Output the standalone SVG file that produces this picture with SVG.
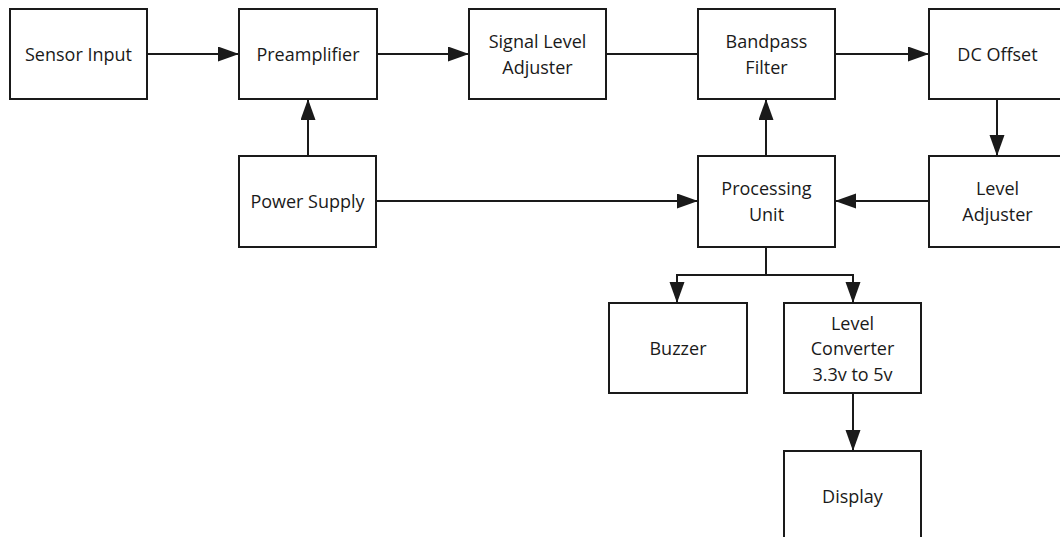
<svg xmlns="http://www.w3.org/2000/svg" width="1060" height="537" viewBox="0 0 1060 537">
  <style>
    .box { fill: #ffffff; stroke: #1a1a1a; stroke-width: 2; }
    .lbl { font-family: "Open Sans", "Noto Sans", sans-serif; font-size: 18px; fill: #1a1a1a; text-anchor: middle; }
    .wire { fill: none; stroke: #1a1a1a; stroke-width: 2; }
    .arr { marker-end: url(#head); }
  </style>
  <defs>
    <marker id="head" markerUnits="userSpaceOnUse" markerWidth="22" markerHeight="16" refX="21" refY="7.5" orient="auto">
      <path d="M0,0 L21,7.5 L0,15 z" fill="#1a1a1a"/>
    </marker>
  </defs>
  <rect width="1060" height="537" fill="#ffffff"/>

  <!-- connectors -->
  <g id="connectors">
    <line class="wire arr" x1="147" y1="54" x2="239" y2="54"/>
    <line class="wire arr" x1="377" y1="54" x2="469" y2="54"/>
    <line class="wire" x1="606" y1="54" x2="698" y2="54"/>
    <line class="wire arr" x1="835" y1="54" x2="929" y2="54"/>
    <line class="wire arr" x1="997" y1="99" x2="997" y2="156"/>
    <line class="wire arr" x1="929" y1="201" x2="835" y2="201"/>
    <line class="wire arr" x1="766" y1="156" x2="766" y2="99"/>
    <line class="wire arr" x1="308" y1="156" x2="308" y2="99"/>
    <line class="wire arr" x1="376" y1="201" x2="698" y2="201"/>
    <polyline class="wire" points="766,247 766,275"/>
    <polyline class="wire arr" points="766,275 677,275 677,303"/>
    <polyline class="wire arr" points="766,275 853,275 853,303"/>
    <line class="wire arr" x1="853" y1="393" x2="853" y2="451"/>
  </g>

  <g id="sensor-input">
    <rect class="box" x="10" y="9" width="137" height="90"/>
    <text class="lbl" x="78.5" y="61">Sensor Input</text>
  </g>
  <g id="preamplifier">
    <rect class="box" x="239" y="9" width="138" height="90"/>
    <text class="lbl" x="308" y="61">Preamplifier</text>
  </g>
  <g id="signal-level-adjuster">
    <rect class="box" x="469" y="9" width="137" height="90"/>
    <text class="lbl" x="537.5" y="48">Signal Level</text>
    <text class="lbl" x="537.5" y="73.5">Adjuster</text>
  </g>
  <g id="bandpass-filter">
    <rect class="box" x="698" y="9" width="137" height="90"/>
    <text class="lbl" x="766.5" y="48">Bandpass</text>
    <text class="lbl" x="766.5" y="73.5">Filter</text>
  </g>
  <g id="dc-offset">
    <rect class="box" x="929" y="9" width="137" height="90"/>
    <text class="lbl" x="997.5" y="61">DC Offset</text>
  </g>
  <g id="power-supply">
    <rect class="box" x="239" y="156" width="137" height="91"/>
    <text class="lbl" x="307.5" y="208">Power Supply</text>
  </g>
  <g id="processing-unit">
    <rect class="box" x="698" y="156" width="137" height="91"/>
    <text class="lbl" x="766.5" y="195">Processing</text>
    <text class="lbl" x="766.5" y="220.5">Unit</text>
  </g>
  <g id="level-adjuster">
    <rect class="box" x="929" y="156" width="137" height="91"/>
    <text class="lbl" x="997.5" y="195">Level</text>
    <text class="lbl" x="997.5" y="220.5">Adjuster</text>
  </g>
  <g id="buzzer">
    <rect class="box" x="609" y="303" width="138" height="90"/>
    <text class="lbl" x="678" y="355">Buzzer</text>
  </g>
  <g id="level-converter">
    <rect class="box" x="784" y="303" width="137" height="90"/>
    <text class="lbl" x="852.5" y="329.5">Level</text>
    <text class="lbl" x="852.5" y="355">Converter</text>
    <text class="lbl" x="852.5" y="380.5">3.3v to 5v</text>
  </g>
  <g id="display">
    <rect class="box" x="784" y="451" width="137" height="100"/>
    <text class="lbl" x="852.5" y="503">Display</text>
  </g>
</svg>
